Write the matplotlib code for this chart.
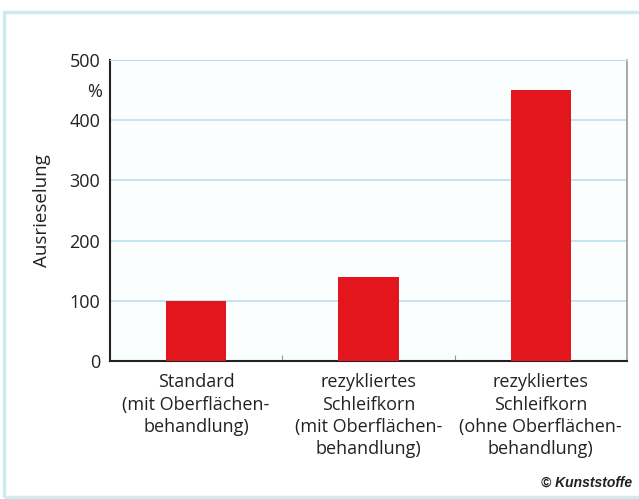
import matplotlib.pyplot as plt
from matplotlib.patches import Rectangle

# data
categories = [
    "Standard\n(mit Oberflächen-\nbehandlung)",
    "rezykliertes\nSchleifkorn\n(mit Oberflächen-\nbehandlung)",
    "rezykliertes\nSchleifkorn\n(ohne Oberflächen-\nbehandlung)",
]
values = [100, 140, 450]
yticks = [0, 100, 200, 300, 400, 500]

plt.rcParams['font.family'] = ['Open Sans', 'DejaVu Sans']

fig = plt.figure(figsize=(6.39, 4.99), dpi=100)
fig.patch.set_facecolor('white')

# light cyan frame round the whole graphic
frame = Rectangle((4 / 639, 2 / 499), 1.0, 485 / 499, transform=fig.transFigure,
                  fill=False, edgecolor='#cdecf0', linewidth=2.5)
fig.patches.append(frame)

ax = fig.add_axes([110 / 639, 138 / 499, 517 / 639, 301 / 499])
ax.set_facecolor('#fbfeff')

x = range(len(categories))
ax.bar(x, values, width=0.35, color='#e3161d', zorder=3)

ax.set_xlim(-0.5, 2.5)
ax.set_ylim(0, 500)
ax.set_yticks(yticks)
ax.set_yticklabels([str(t) for t in yticks], fontsize=13, color='#222222')
ax.yaxis.grid(True, color='#b9e0ea', linewidth=1.2, zorder=0)
ax.tick_params(axis='y', length=0, pad=7)

# category separator ticks on the bottom axis
ax.set_xticks([0.5, 1.5])
ax.set_xticklabels([])
ax.tick_params(axis='x', length=4, color='#999999', direction='in')
for xi, lab in zip(x, categories):
    ax.text(xi, -20, lab, ha='center', va='top', fontsize=13,
            color='#222222', linespacing=1.32)

for side in ['left', 'bottom']:
    ax.spines[side].set_color('#222222')
    ax.spines[side].set_linewidth(1.5)
ax.spines['top'].set_color('#b9e0ea')
ax.spines['right'].set_color('#999999')
ax.spines['right'].set_linewidth(1.2)

ax.set_ylabel('Ausrieselung', fontsize=13.5, color='#222222', labelpad=13)
ax.text(-0.015, 447, '%', transform=ax.get_yaxis_transform(), ha='right',
        va='center', fontsize=13, color='#222222')

fig.text(632 / 639, 1 - 483 / 499, '© Kunststoffe', ha='right', va='center',
         fontsize=10, fontweight='bold', fontstyle='italic', color='#222222',
         family=['Liberation Sans', 'DejaVu Sans'])

fig.savefig('out.png', dpi=100)
